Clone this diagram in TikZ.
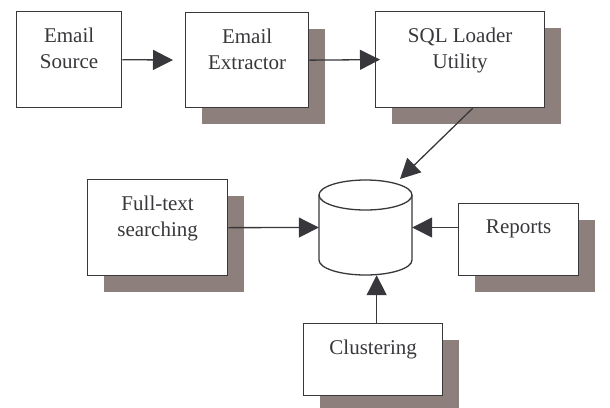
\documentclass[tikz,border=0pt]{standalone}
\usepackage{fontspec}
\setmainfont{Liberation Serif}
\usetikzlibrary{arrows.meta,shadows}
\definecolor{ink}{RGB}{56,56,60}
\definecolor{shadowc}{RGB}{141,128,124}
\tikzset{
  box/.style={draw=ink, line width=1.3pt, fill=white, inner sep=0pt, anchor=north west,
    general shadow={fill=shadowc, shadow xshift=16pt, shadow yshift=-16pt}},
  plainbox/.style={draw=ink, line width=1.3pt, fill=white, inner sep=0pt, anchor=north west},
  txt/.style={anchor=north, inner sep=0pt, align=center, text=ink, yshift=-16.5pt,
    font=\fontsize{21}{26}\selectfont},
  arr/.style={draw=ink, line width=1.3pt, -{Triangle[length=20pt,width=20pt]}, color=ink}
}
\begin{document}
\begin{tikzpicture}[x=1pt,y=-1pt]
\useasboundingbox (0,0) rectangle (610,407);
% boxes
\node[plainbox, minimum width=105pt, minimum height=96pt] (src) at (16,11) {};
\node[box, minimum width=123pt, minimum height=95pt] (ext) at (185,12) {};
\node[box, minimum width=169pt, minimum height=96pt] (sql) at (375,11) {};
\node[box, minimum width=140pt, minimum height=96pt] (fts) at (87,179) {};
\node[box, minimum width=120pt, minimum height=72pt] (rep) at (458,203) {};
\node[box, minimum width=139pt, minimum height=72pt] (clu) at (303,323) {};
% texts
\node[txt] (srct) at (src.north) {Email\\Source};
\node[txt] (extt) at (ext.north) {Email\\Extractor};
\node[txt] (sqlt) at (sql.north) {SQL Loader\\Utility};
\node[txt] (ftst) at (fts.north) {Full-text\\searching};
\node[txt] (rept) at (rep.north) {Reports};
\node[txt] (clut) at (clu.north) {Clustering};
% database cylinder
\draw[ink, line width=1.3pt, fill=white]
  (319,195) -- (319,260) arc[start angle=180, end angle=360, x radius=46.5pt, y radius=15pt]
  -- (412,195);
\draw[ink, line width=1.3pt, fill=white] (365.5,195) ellipse[x radius=46.5pt, y radius=15pt];
\node[inner sep=0pt, minimum width=93pt, minimum height=95pt] (db) at (365.5,227.5) {};
\coordinate (dbtop) at (400,179);
% connectors
\draw[arr, shorten >=12pt] (src.east) -- (ext.west);
\draw[arr, shorten >=-5pt] (ext.east) -- (sql.west);
\draw[arr] ([xshift=12.5pt]sql.south) -- (dbtop);
\draw[arr] (fts.east) -- (db.west);
\draw[arr] (db.east -| rep.west) -- (db.east);
\draw[arr] ([xshift=3.5pt]clu.north) -- ([xshift=3.5pt]clu.north |- db.south);
\end{tikzpicture}
\end{document}
